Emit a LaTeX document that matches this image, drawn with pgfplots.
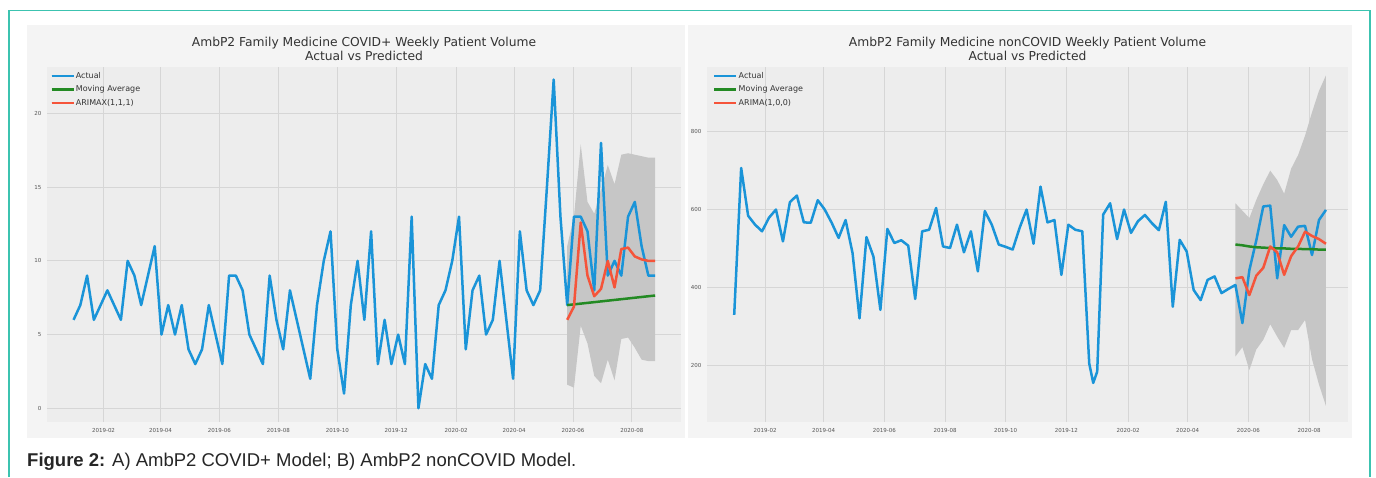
\documentclass[border=0pt]{standalone}
\usepackage{fontspec}
\setmainfont{DejaVu Sans}
\newfontfamily\capfont{Liberation Sans}
\usepackage{pgfplots}
\usepackage{pgfplotstable}
\pgfplotsset{compat=1.18}
\definecolor{framec}{HTML}{3CC3B0}
\definecolor{figbg}{HTML}{F4F4F4}
\definecolor{axbg}{HTML}{EDEDED}
\definecolor{gridc}{HTML}{D6D6D6}
\definecolor{cblue}{HTML}{1A94D8}
\definecolor{cred}{HTML}{F5543A}
\definecolor{cgreen}{HTML}{238A23}
\definecolor{cigray}{HTML}{C6C6C6}
\definecolor{txt}{HTML}{333333}
\definecolor{tickc}{HTML}{555555}

% Left panel: COVID+ (x = days since 2019-01-01)
\pgfplotstableread{
d v
0 6
7 7
14 9
21 6
28 7
35 8
42 7
49 6
56 10
63 9
70 7
77 9
84 11
91 5
98 7
105 5
112 7
119 4
126 3
133 4
140 7
147 5
154 3
161 9
168 9
175 8
182 5
189 4
196 3
203 9
210 6
217 4
224 8
231 6
238 4
245 2
252 7
259 10
266 12
273 4
280 1
287 7
294 10
301 6
308 12
315 3
322 6
329 3
336 5
343 3
350 13
357 0
364 3
371 2
378 7
385 8
392 10
399 13
406 4
413 8
420 9
427 5
434 6
441 10
448 6
455 2
462 12
469 8
476 7
483 8
490 15
497 22.3
504 13
511 7
518 13
525 13
532 12
539 8
546 18
553 9
560 10
567 9
574 13
581 14
588 11
595 9
602 9
}\leftact

\pgfplotstableread{
d ma ar
511 7.00 6.0
518 7.05 6.9
525 7.10 12.6
532 7.15 9.0
539 7.20 7.6
546 7.25 8.1
553 7.30 10.0
560 7.35 8.2
567 7.40 10.8
574 7.45 10.9
581 7.50 10.3
588 7.55 10.1
595 7.60 10.0
602 7.65 10.0
}\leftpred

% confidence band: upper edge forward, lower edge back
\pgfplotstableread{
d b
511 11.0
518 13.0
525 17.9
532 14.0
539 13.2
546 14.8
553 16.5
560 15.2
567 17.2
574 17.3
581 17.2
588 17.1
595 17.0
602 17.0
602 3.2
595 3.2
588 3.3
581 4.1
574 4.8
567 4.7
560 1.9
553 3.3
546 1.7
539 2.2
532 4.4
525 5.6
518 1.4
511 1.6
}\leftband

% Right panel: nonCOVID
\pgfplotstableread{
d v
0 329
7 707
14 584
21 561
28 544
35 579
42 600
49 518
56 619
63 636
70 567
77 566
84 624
91 600
98 566
105 527
112 573
119 488
126 320
133 529
140 479
147 342
154 550
161 514
168 521
175 507
182 370
189 544
196 548
203 604
210 505
217 501
224 561
231 490
238 544
245 441
252 596
259 561
266 510
273 504
280 497
287 553
294 600
301 512
308 659
315 567
322 573
329 432
336 561
343 548
350 544
357 204
361 154
365 183
371 587
378 616
385 524
392 600
399 540
406 570
413 586
420 565
427 547
434 620
441 350
448 522
455 492
462 393
469 367
476 419
483 428
490 385
497 396
504 406
511 308
518 444
525 521
532 608
539 610
546 423
553 560
560 530
567 556
574 558
581 483
588 573
595 599
}\rightact

\pgfplotstableread{
d ma ar
504 510 423
511 508 426
518 505 380
525 503 430
532 502 450
539 501 505
546 500 490
553 500 432
560 499 480
567 499 505
574 498 543
581 498 532
588 497 524
595 497 512
}\rightpred

\pgfplotstableread{
d b
504 616
511 597
518 578
525 625
532 665
539 700
546 676
553 641
560 705
567 740
574 790
581 850
588 905
595 945
595 95
588 150
581 215
574 316
567 290
560 290
553 244
546 273
539 305
532 265
525 240
518 187
511 246
504 222
}\rightband

\pgfplotsset{
  fte/.style={
    scale only axis, anchor=south west,
    axis background/.style={fill=axbg},
    axis line style={draw=none},
    major tick length=0pt,
    tick style={draw=none},
    grid=major,
    major grid style={gridc, line width=0.9pt},
    tick label style={font=\fontsize{5.5}{6}\selectfont, text=tickc},
    /pgf/number format/assume math mode=true,
    xtick={31,90,151,212,273,334,396,456,517,578},
    xticklabels={2019-02,2019-04,2019-06,2019-08,2019-10,2019-12,2020-02,2020-04,2020-06,2020-08},
    xticklabel style={yshift=-3pt},
    yticklabel style={xshift=-2pt},
    legend cell align=left,
    legend style={draw=none, fill=none, font=\fontsize{8}{9}\selectfont, text=txt,
      anchor=north west, inner sep=0pt,
      nodes={inner sep=1pt, text height=6pt, text depth=1.5pt}, row sep=4pt},
    legend image code/.code={\draw[#1, line width=2.2pt] (0pt,0pt) -- (17pt,0pt); \path (0pt,0pt) -- (22pt,0pt);},
  },
  actst/.style={cblue, line width=2.5pt, line join=round},
  mast/.style={cgreen, line width=2.5pt, line join=round},
  arst/.style={cred, line width=2.5pt, line join=round},
  bandst/.style={fill=cigray, draw=none, forget plot},
}

\begin{document}
\begin{tikzpicture}
\fill[white] (0pt,0pt) rectangle (1376pt,477pt);
\fill[figbg] (27pt,39pt) rectangle (685pt,452pt);
\fill[figbg] (688pt,39pt) rectangle (1352pt,452pt);
\draw[framec, line width=1.5pt] (9pt,0pt) -- (9pt,466.5pt) -- (1370pt,466.5pt) -- (1370pt,0pt);

% Left axis
\begin{axis}[fte, at={(47pt,55pt)}, width=634pt, height=355pt,
  xmin=-27.5, xmax=628.8, ymin=-0.93, ymax=23.15,
  ytick={0,5,10,15,20},
  legend style={at={(axis description cs:0.005,0.988)}}]
\addplot[bandst] table[x=d, y=b]{\leftband};
\addplot[actst] table[x=d, y=v]{\leftact};
\addplot[mast] table[x=d, y=ma]{\leftpred};
\addplot[arst] table[x=d, y=ar]{\leftpred};
\legend{Actual, Moving Average, {ARIMAX(1,1,1)}}
\end{axis}

% Right axis
\begin{axis}[fte, at={(707pt,55pt)}, width=641pt, height=355pt,
  xmin=-27.35, xmax=617.2, ymin=53.5, ymax=966.6,
  ytick={200,400,600,800},
  legend style={at={(axis description cs:0.0094,0.988)}}]
\addplot[bandst] table[x=d, y=b]{\rightband};
\addplot[actst] table[x=d, y=v]{\rightact};
\addplot[mast] table[x=d, y=ma]{\rightpred};
\addplot[arst] table[x=d, y=ar]{\rightpred};
\legend{Actual, Moving Average, {ARIMA(1,0,0)}}
\end{axis}

% Titles
\node[font=\fontsize{12.3}{14}\selectfont, text=txt, anchor=base] at (364pt,430pt) {AmbP2 Family Medicine COVID+ Weekly Patient Volume};
\node[font=\fontsize{12.3}{14}\selectfont, text=txt, anchor=base] at (364pt,416pt) {Actual vs Predicted};
\node[font=\fontsize{12.3}{14}\selectfont, text=txt, anchor=base] at (1027.5pt,430pt) {AmbP2 Family Medicine nonCOVID Weekly Patient Volume};
\node[font=\fontsize{12.3}{14}\selectfont, text=txt, anchor=base] at (1027.5pt,416pt) {Actual vs Predicted};

% Caption
\node[anchor=base west, inner sep=0pt, font=\capfont\fontsize{18.5}{20}\selectfont, text=black!85] at (27pt,10.5pt) {\textbf{Figure 2:} A) AmbP2 COVID+ Model; B) AmbP2 nonCOVID Model.};
\end{tikzpicture}
\end{document}
